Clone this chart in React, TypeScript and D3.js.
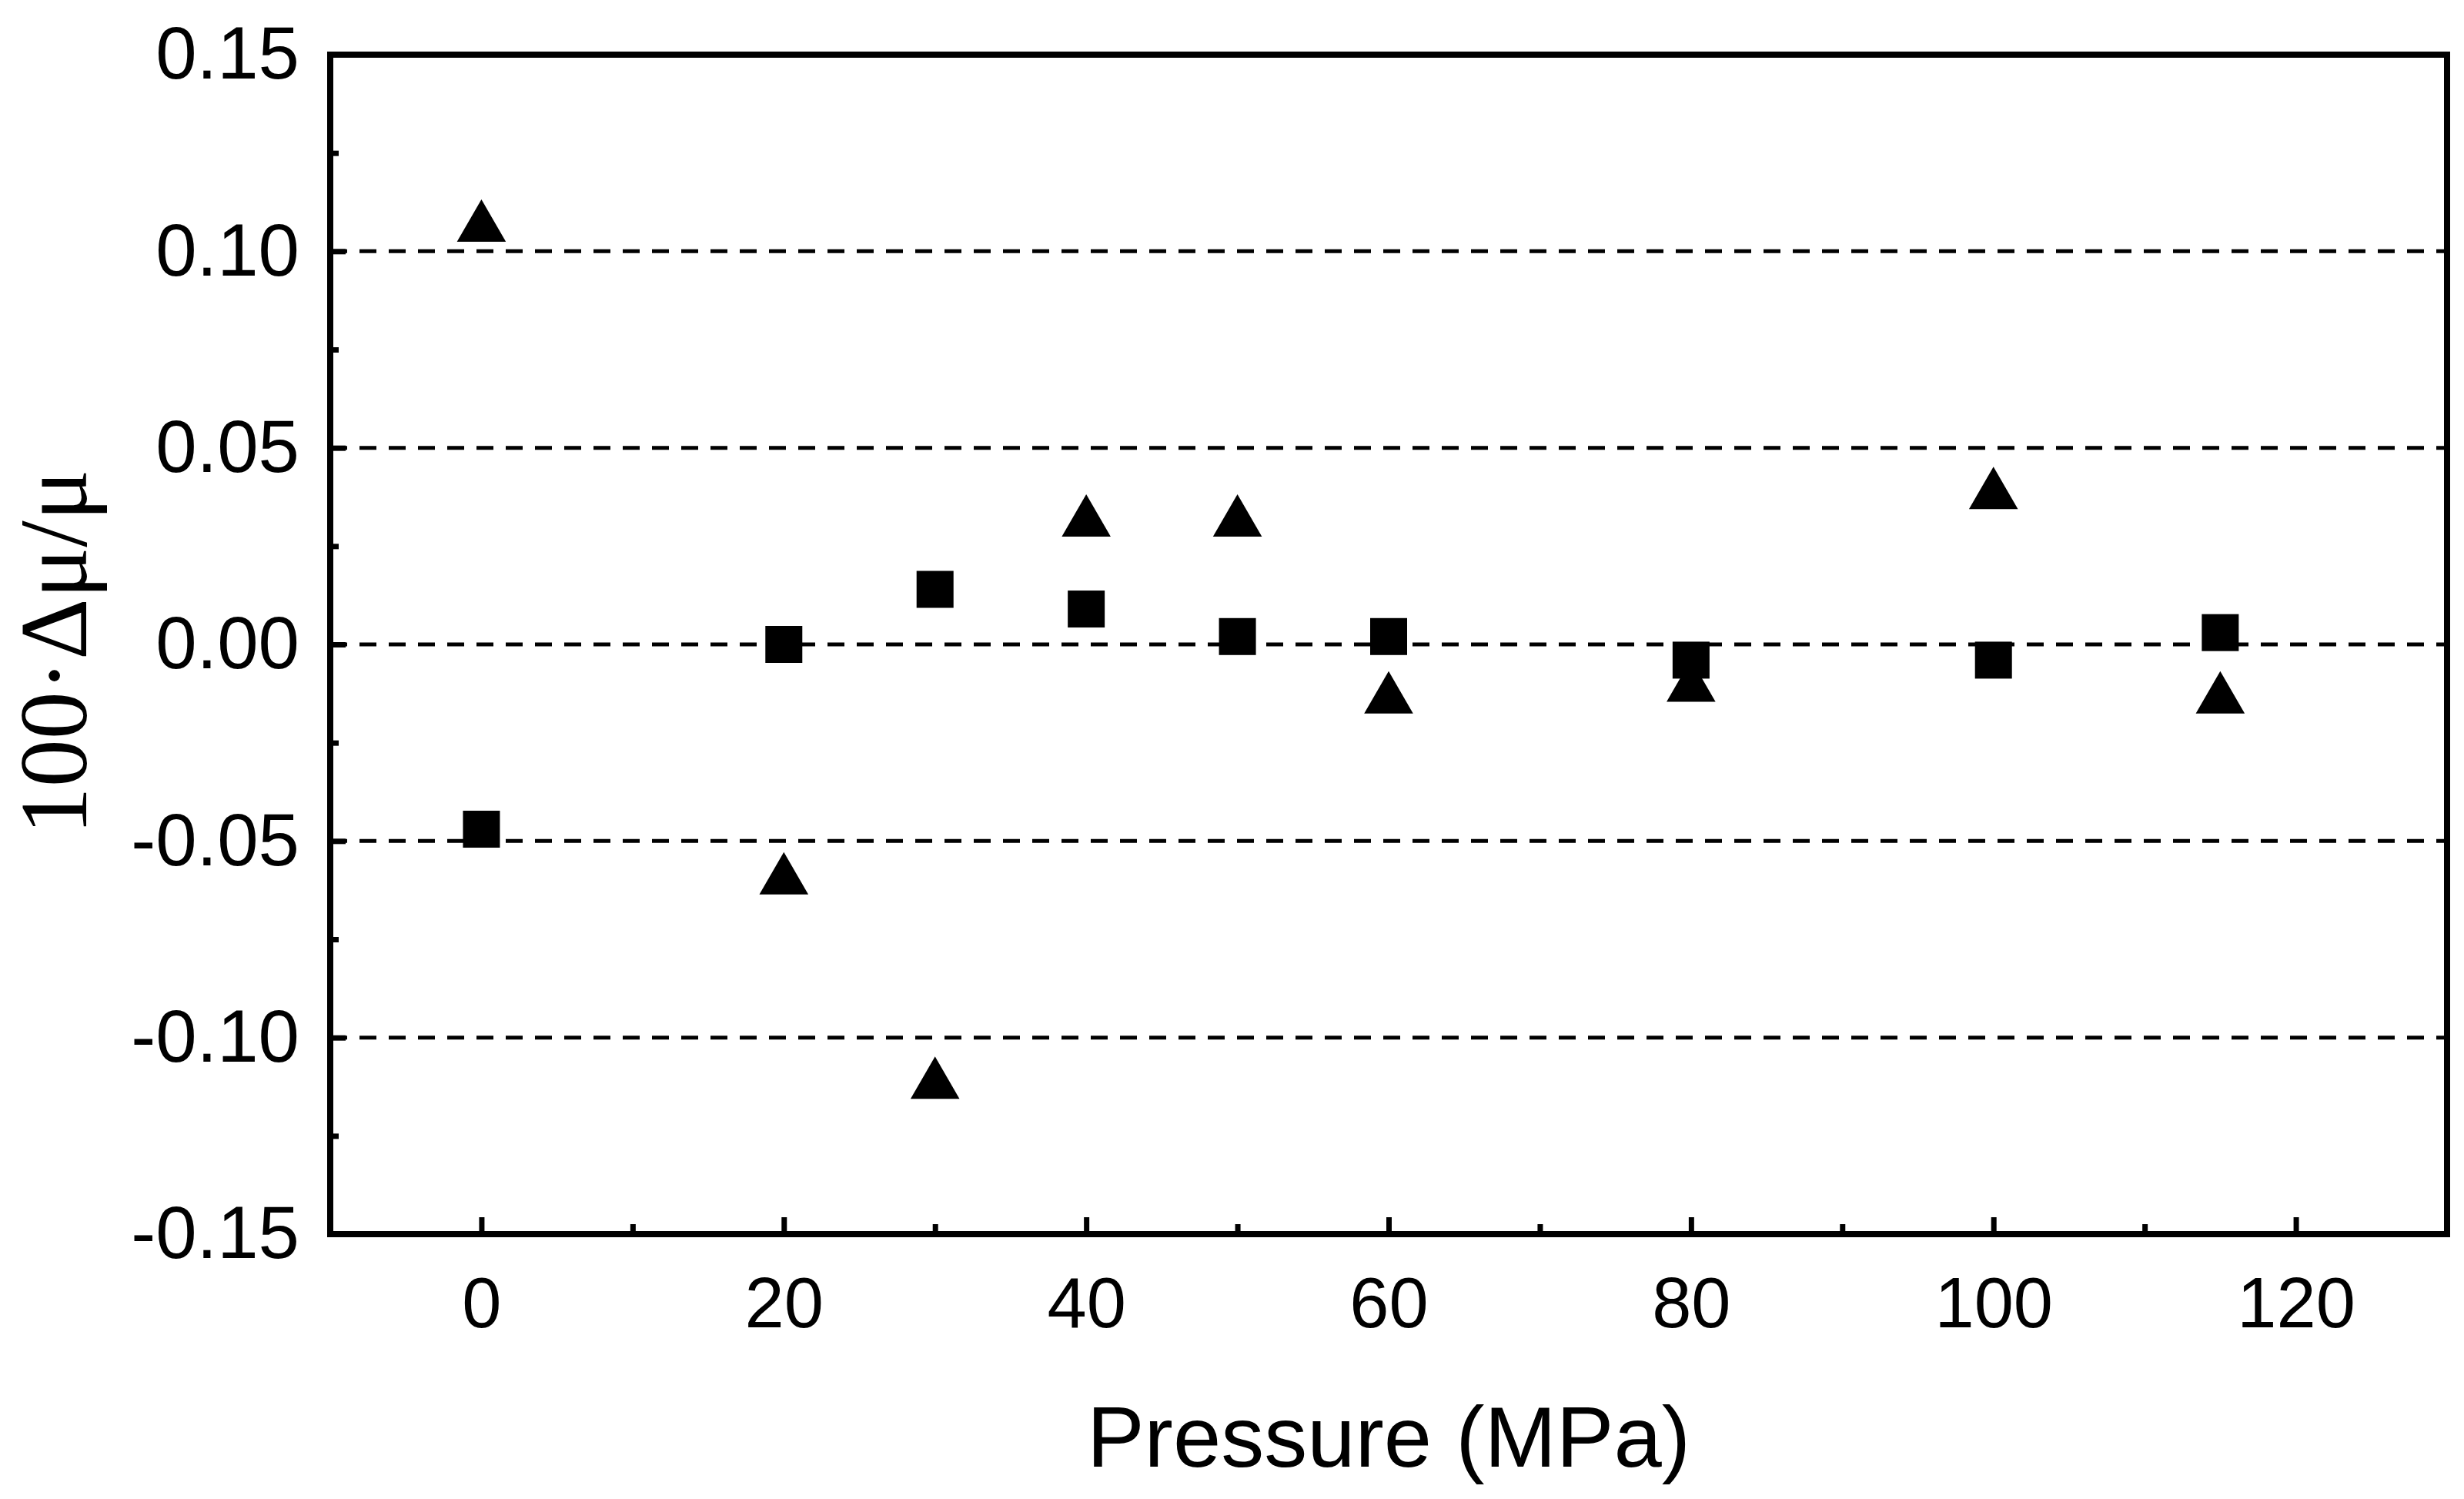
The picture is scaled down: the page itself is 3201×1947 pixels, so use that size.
import React, { useEffect, useRef } from "react";
import * as d3 from "d3";

const pressure = [0, 20, 30, 40, 50, 60, 80, 100, 115];
const squareDev = [-0.047, 0.0, 0.014, 0.009, 0.002, 0.002, -0.004, -0.004, 0.003];
const triangleDev = [0.106, -0.06, -0.112, 0.031, 0.031, -0.014, -0.011, 0.038, -0.014];
const yTicks = [-0.15, -0.1, -0.05, 0, 0.05, 0.1, 0.15];
const yGrid = [-0.1, -0.05, 0, 0.05, 0.1];
const xTicks = [0, 20, 40, 60, 80, 100, 120];

const W = 3201;
const H = 1947;
const margin = { top: 71, right: 22, bottom: 344, left: 429 };
const sans = "Arial, 'Liberation Sans', sans-serif";

export default function App() {
  const ref = useRef<SVGSVGElement>(null);

  useEffect(() => {
    const svg = d3.select(ref.current);
    svg.selectAll("*").remove();
    const iw = W - margin.left - margin.right;
    const ih = H - margin.top - margin.bottom;

    const x = d3.scaleLinear().domain([-10, 130]).range([0, iw]);
    const y = d3.scaleLinear().domain([-0.15, 0.15]).range([ih, 0]);

    const g = svg.append("g").attr("transform", `translate(${margin.left},${margin.top})`);

    // dashed reference lines
    g.selectAll(".grid")
      .data(yGrid)
      .enter()
      .append("line")
      .attr("x1", 0)
      .attr("x2", iw)
      .attr("y1", (d) => y(d))
      .attr("y2", (d) => y(d))
      .attr("stroke", "#000")
      .attr("stroke-width", 5)
      .attr("stroke-dasharray", "22,16");

    // y axis (ticks inward)
    const yAxis = g
      .append("g")
      .call(
        d3.axisLeft(y).tickValues(yTicks).tickSize(-20).tickPadding(40)
          .tickFormat((d) => d3.format(".2f")(d as number).replace("−", "-"))
      );
    yAxis.select(".domain").remove();
    yAxis.selectAll("line").attr("stroke-width", 7);
    yAxis.selectAll("text")
      .attr("font-family", sans)
      .attr("font-size", 96)
      .attr("fill", "#000");
    g.append("g").call(
      d3.axisLeft(y).tickValues(d3.range(-0.125, 0.15, 0.05)).tickSize(-11).tickFormat(() => "")
    ).call((s) => { s.select(".domain").remove(); s.selectAll("line").attr("stroke-width", 7); });

    // x axis
    const xAxis = g
      .append("g")
      .attr("transform", `translate(0,${ih})`)
      .call(d3.axisBottom(x).tickValues(xTicks).tickSize(-22).tickPadding(56));
    xAxis.select(".domain").remove();
    xAxis.selectAll("line").attr("stroke-width", 7);
    xAxis.selectAll("text")
      .attr("font-family", sans)
      .attr("font-size", 92)
      .attr("fill", "#000");
    g.append("g").attr("transform", `translate(0,${ih})`).call(
      d3.axisBottom(x).tickValues(d3.range(10, 130, 20)).tickSize(-13).tickFormat(() => "")
    ).call((s) => { s.select(".domain").remove(); s.selectAll("line").attr("stroke-width", 7); });

    // frame
    g.append("rect")
      .attr("width", iw)
      .attr("height", ih)
      .attr("fill", "none")
      .attr("stroke", "#000")
      .attr("stroke-width", 8);

    // squares
    g.selectAll(".sq")
      .data(pressure.map((p, i) => [p, squareDev[i]]))
      .enter()
      .append("rect")
      .attr("x", (d) => x(d[0]) - 24)
      .attr("y", (d) => y(d[1]) - 24)
      .attr("width", 48)
      .attr("height", 48)
      .attr("fill", "#000");

    // triangles
    const tri = d3.symbol().type(d3.symbolTriangle).size(1750);
    g.selectAll(".tri")
      .data(pressure.map((p, i) => [p, triangleDev[i]]))
      .enter()
      .append("path")
      .attr("d", tri)
      .attr("transform", (d) => `translate(${x(d[0])},${y(d[1])})`)
      .attr("fill", "#000");

    // axis titles
    svg.append("text")
      .attr("x", margin.left + x(60))
      .attr("y", 1905)
      .attr("text-anchor", "middle")
      .attr("font-family", sans)
      .attr("font-size", 112)
      .text("Pressure (MPa)");

    svg.append("text")
      .attr("transform", `translate(112,${margin.top + y(0) + 10}) rotate(-90)`)
      .attr("text-anchor", "middle")
      .attr("font-family", "'Liberation Serif', 'Times New Roman', serif")
      .attr("font-size", 124)
      .text("100·Δμ/μ");
  }, []);

  return (
    <svg
      ref={ref}
      width={W}
      height={H}
      style={{ position: "absolute", left: 0, top: 0, background: "#fff" }}
    />
  );
}
